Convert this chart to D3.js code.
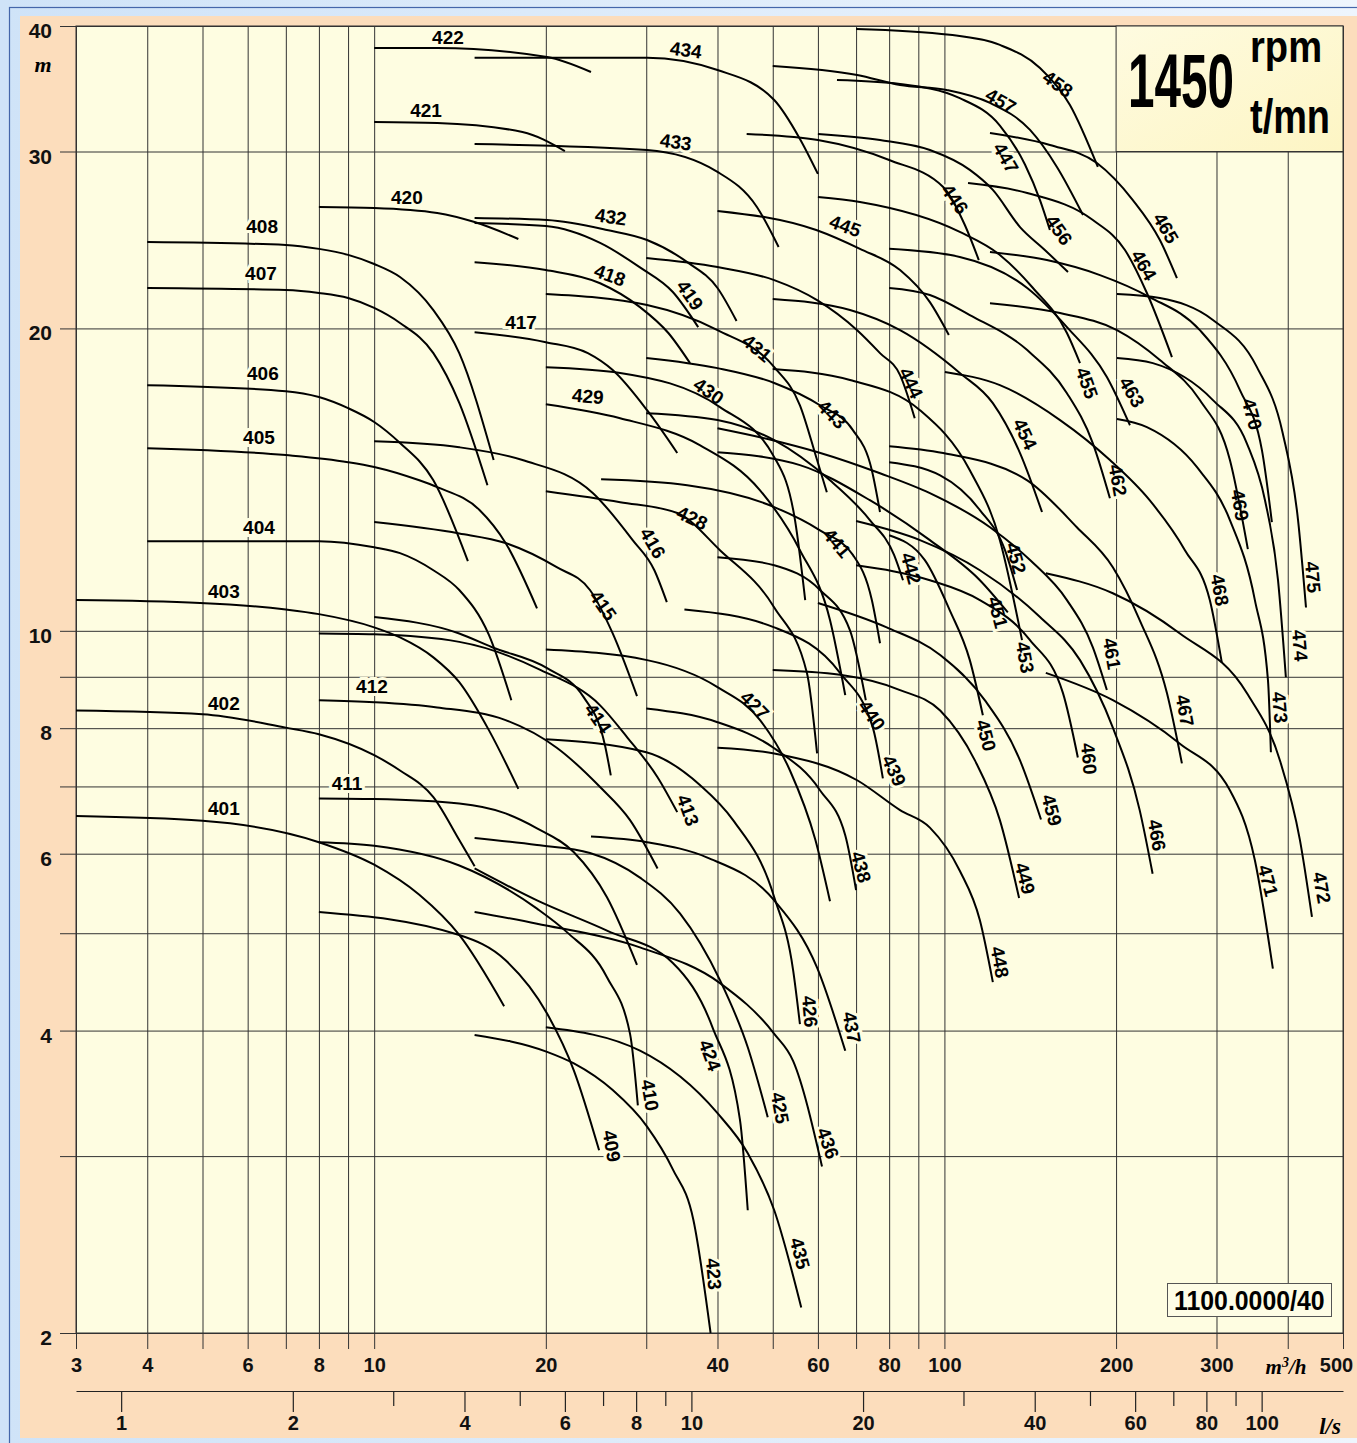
<!DOCTYPE html>
<html>
<head>
<meta charset="utf-8">
<script src="https://cdn.jsdelivr.net/npm/d3@7"></script>
<style>
body { margin: 0; background: #d6e8fb; }
svg { display: block; }
text { font-family: "Liberation Sans", Arial, sans-serif; }
</style>
</head>
<body>
<div id="chart"></div>
<script>
// axis ticks
var flowTicks = [3,4,5,6,7,8,9,10,20,30,40,50,60,70,80,90,100,200,300,400,500];
var flowLabels = [3,4,6,8,10,20,40,60,80,100,200,300,500];
var headTicks = [2,3,4,5,6,7,8,9,10,20,30,40];
var headLabels = [2,4,6,8,10,20,30,40];
var lsTicks = [1,2,3,4,5,6,7,8,9,10,20,30,40,50,60,70,80,90,100];
var lsLabels = [1,2,4,6,8,10,20,40,60,80,100];

// head curves, [flow m3/h, head m]
var family401 = [
 ["401", [[3,6.54],[5,6.47],[8,6.16],[10,5.85],[12,5.46],[14.1,4.98],[16.9,4.23]]],
 ["402", [[3,8.33],[5,8.26],[7,8.01],[8,7.89],[10,7.52],[11.1,7.26],[12.7,6.83],[14.1,6.19],[15,5.83]]],
 ["403", [[3,10.73],[4.95,10.66],[7,10.5],[8,10.39],[10,10.08],[11.1,9.85],[12.7,9.41],[14.1,8.89],[15.9,7.96],[17.9,6.96]]],
 ["404", [[4,12.28],[8,12.28],[10,12.11],[11.1,11.95],[12.7,11.49],[14.1,10.98],[15.9,9.9],[17.4,8.53]]],
 ["405", [[4,15.2],[7,14.96],[9,14.72],[10,14.56],[12,14.12],[12.9,13.9],[15.3,13.19],[17,12.23],[19.3,10.53]]],
 ["406", [[4,17.56],[7,17.32],[8,17.09],[9,16.66],[10,16.14],[11.1,15.38],[12.7,14.12],[14.6,11.73]]],
 ["407", [[4,21.94],[7,21.84],[8,21.69],[9,21.44],[10,20.96],[11.1,20.25],[12.7,18.9],[14.1,16.86],[15.8,13.96]]],
 ["408", [[4,24.38],[7,24.22],[8,24.0],[9,23.67],[10,23.18],[11.1,22.5],[12.7,20.86],[14.1,18.9],[16.2,14.79]]]
];
var family409 = [
 ["409", [[8,5.25],[14.1,4.98],[17,4.7],[20.1,4.16],[22.4,3.65],[24.8,3.04]]],
 ["410", [[8,6.16],[10,6.11],[14.1,5.84],[19.3,5.29],[21.8,5.01],[25.6,4.52],[28.1,3.97],[29,3.37]]],
 ["411", [[8,6.81],[10,6.8],[14.1,6.73],[17,6.58],[19.3,6.36],[22.4,6.02],[25.6,5.43],[28.9,4.65]]],
 ["412", [[8,8.53],[10,8.49],[12.9,8.39],[17,8.15],[20.9,7.65],[24.9,6.99],[28.1,6.48],[31.4,5.8]]],
 ["413", [[8,9.94],[10,9.92],[14.1,9.75],[19.6,9.14],[24.9,8.43],[27.8,7.83],[31.4,7.15],[34,6.6]]],
 ["414", [[10,10.32],[14.1,9.94],[16.1,9.63],[20.1,9.18],[23.3,8.59],[25.4,7.69],[26,7.18]]],
 ["415", [[10,12.83],[14.1,12.5],[17,12.23],[20.9,11.57],[23.9,10.98],[26.2,9.94],[28.9,8.61]]],
 ["416", [[10,15.44],[14.1,15.23],[18.2,14.79],[24.2,13.71],[28.4,12.31],[31,11.49],[32.6,10.68]]]
];
var family417 = [
 ["417", [[15,19.83],[20,19.38],[23.7,18.9],[26.2,18.18],[30.1,16.58],[34,15.03]]],
 ["418", [[15,23.28],[20,22.86],[24.9,22.18],[29.25,21.0],[32.8,19.79],[35.8,18.47]]],
 ["419", [[15,25.46],[20,25.29],[24.9,24.33],[29.25,23.0],[33.4,21.74],[37,20.06]]],
 ["420", [[8,26.42],[10,26.36],[12.9,26.06],[15,25.52],[17.9,24.55]]],
 ["421", [[10,32.1],[12.9,32.03],[18.2,31.37],[21.6,30.03]]],
 ["422", [[10,38.04],[12.9,38.04],[20.1,37.26],[24,36.0]]]
];
var family423 = [
 ["423", [[15,3.96],[20.1,3.81],[22.4,3.71],[26.2,3.49],[30.1,3.21],[33.4,2.91],[36.3,2.59],[38.9,2.0]]],
 ["424", [[15,5.8],[19.3,5.39],[25.6,5.03],[33.4,4.67],[39.2,4.03],[43.8,3.26],[45.2,2.65]]],
 ["425", [[15,6.22],[19.3,6.12],[23.9,6.01],[29.25,5.68],[34.4,5.23],[40.4,4.49],[45.2,3.85],[49,3.28]]],
 ["426", [[20,7.8],[30,7.57],[37.3,7.02],[42.6,6.48],[50.3,5.43],[54.3,4.59],[55.8,4.06]]],
 ["427", [[20,9.58],[30.1,9.35],[40,8.79],[47.5,8.15],[53.6,7.26],[59.4,6.19],[63,5.38]]],
 ["428", [[20,13.77],[27,13.43],[34,13.1],[40.4,12.03],[50.3,10.55],[57.4,9.08],[59.8,7.55]]],
 ["429", [[20,16.81],[27,16.28],[37.3,15.3],[47.5,13.8],[55.8,12.03],[63,10.25],[67,8.63]]],
 ["430", [[20,18.3],[27,18.06],[40.4,16.7],[50.3,14.89],[54.7,12.89],[57,10.73]]],
 ["431", [[20,21.64],[30.1,21.1],[40,19.92],[50.3,18.3],[55.8,16.77],[59.8,14.79],[62.2,13.74]]],
 ["432", [[15,25.76],[20.1,25.64],[25.6,25.06],[30.1,24.49],[35.4,23.28],[40,21.94],[43.2,20.34]]],
 ["433", [[15,30.52],[30.1,30.1],[40,28.63],[46.9,26.42],[51.2,24.1]]],
 ["434", [[15,37.2],[30.1,37.2],[40,36.16],[50.3,33.76],[55.8,30.88],[60,28.5]]]
];
var family435 = [
 ["435", [[20,4.03],[29.25,3.82],[40,3.31],[45.2,3.02],[50.3,2.65],[56.1,2.12]]],
 ["436", [[15,5.25],[19.3,5.11],[29.25,4.84],[40.4,4.46],[50.3,3.97],[54.3,3.73],[61,2.93]]],
 ["437", [[24,6.24],[30.1,6.16],[38.3,5.95],[50.3,5.39],[59.8,4.62],[67,3.82]]],
 ["438", [[30,8.37],[40,8.11],[50.3,7.64],[60.5,6.94],[67,6.26],[70,5.52]]],
 ["439", [[35,10.5],[50.3,10.08],[65.6,9.08],[74.9,8.01],[78,7.13]]],
 ["440", [[40,11.84],[50.3,11.62],[60.5,10.98],[68.3,10.01],[72.8,8.53]]],
 ["441", [[25,14.15],[35.4,13.96],[50.3,13.28],[60.5,12.59],[69.1,11.9],[74.6,10.73],[77.1,9.72]]],
 ["442", [[30,16.47],[40,16.21],[50.3,15.48],[63,14.12],[74,12.89],[81.6,11.9],[84.6,11.23]]],
 ["443", [[30,18.69],[40,18.26],[50.3,17.65],[60.5,16.77],[69.1,15.84],[74.6,14.45],[77.1,13.13]]],
 ["444", [[30,23.5],[40,23.02],[50.3,22.34],[59.8,21.34],[70.3,19.92],[77.1,18.9],[83.6,17.97],[88.7,16.28]]],
 ["445", [[40,26.18],[59.6,25.06],[71.1,24.0],[83.6,22.86],[94.3,21.24],[101.8,19.7]]],
 ["446", [[45,31.23],[60,30.8],[80,29.42],[99.5,27.66],[108.6,25.35],[114.9,23.39]]],
 ["447", [[64.8,35.34],[83.6,35.02],[106.4,33.9],[125.1,31.84],[138.5,29.1],[147.1,26.84],[153.1,25.06]]]
];
var family448 = [
 ["448", [[40,7.65],[50.3,7.55],[70.3,7.1],[83.6,6.63],[94.3,6.37],[106.4,5.77],[115.4,5.15],[121.6,4.47]]],
 ["449", [[50,9.14],[65.6,9.04],[83.6,8.73],[98.3,8.33],[113.1,7.43],[125.1,6.48],[135.2,5.42]]],
 ["450", [[80,12.45],[92.4,11.76],[102.2,10.48],[110.8,9.35],[116.8,8.24]]],
 ["451", [[40,15.06],[55.8,14.62],[74,13.49],[94.3,12.31],[115.4,11.23],[129.2,10.43]]],
 ["452", [[80,14.72],[98.3,14.28],[115.4,13.19],[127.7,12.03],[134.1,10.98]]],
 ["453", [[50,18.22],[68.3,17.77],[90.6,16.58],[110.8,14.45],[125.1,12.31],[136.8,9.79]]],
 ["454", [[50,21.39],[68.3,20.86],[83.6,19.92],[106.4,18.06],[121.6,16.85],[135.7,15.03],[148.3,13.13]]],
 ["455", [[60,27.03],[71.1,26.72],[106.4,24.95],[125.1,23.67],[143,21.94],[164,19.79],[172.9,18.47]]],
 ["456", [[60,31.23],[77.1,30.8],[94.3,30.1],[110.8,28.76],[121.6,27.47],[135.7,25.23],[150,23.94],[164.7,22.76]]],
 ["457", [[50,36.5],[70.3,35.75],[83.6,34.94],[100.9,34.54],[120.2,33.53],[141.3,31.52],[157.5,28.96],[175,25.94]]],
 ["458", [[70,39.73],[102.2,39.2],[125.1,38.3],[147.1,36.33],[166,33.38],[185.8,28.96]]]
];
var family459 = [
 ["459", [[60,10.66],[79.2,10.08],[98.3,9.46],[117.7,8.53],[135.7,7.43],[147.7,6.49]]],
 ["460", [[70,11.62],[94.3,11.23],[115.4,10.73],[141.3,9.79],[161.4,8.67],[171.4,7.48]]],
 ["461", [[40,15.91],[50,15.48],[60,15.06],[77.1,14.35],[94.3,13.71],[120.2,12.68],[141.3,11.76],[164,10.73],[182.1,9.63],[192.7,8.73]]],
 ["462", [[80,21.94],[94.3,21.59],[110.8,20.62],[139.7,19.03],[164,17.24],[182.1,15.37],[195.1,13.55]]],
 ["463", [[80,24.0],[106.4,23.56],[139.7,21.94],[164,20.06],[192.7,17.89],[211.5,16.02]]],
 ["464", [[110,27.91],[139.7,27.28],[182.1,25.64],[207.3,23.94],[226.5,21.69],[250.6,18.73]]],
 ["465", [[120.2,31.3],[153.1,30.45],[185.1,29.22],[214,26.84],[238.7,24.49],[255.7,22.44]]]
];
var family466 = [
 ["466", [[70,12.86],[90.6,12.31],[115.4,11.49],[147.1,10.32],[172.9,9.35],[197.4,8.01],[220,6.63],[231.8,5.73]]],
 ["467", [[80,15.27],[99.5,15.03],[139.7,14.12],[170.7,12.68],[197.4,11.57],[220,10.25],[245.6,8.67],[260.9,7.38]]],
 ["468", [[100.2,18.1],[125.1,17.56],[159.5,16.21],[195.1,14.79],[229,13.49],[264.1,12.03],[292,10.73],[306.6,9.29]]],
 ["469", [[120.2,21.19],[159.5,20.72],[200.7,19.92],[238.7,18.6],[280.5,16.97],[316.7,14.79],[340.5,12.06]]],
 ["470", [[120.2,23.83],[151.2,23.39],[187.4,22.6],[229,21.49],[280.5,19.92],[329.8,17.36],[360.4,15.13],[375.2,12.83]]]
];
var family471 = [
 ["471", [[150.6,9.08],[197.4,8.53],[258.8,7.72],[316.7,6.94],[350.3,5.91],[376.7,4.61]]],
 ["472", [[150.6,11.41],[197.4,10.9],[258.8,9.94],[339.1,8.67],[387.6,7.43],[420.2,6.19],[441.1,5.19]]],
 ["473", [[200.7,16.25],[226.5,15.95],[277.3,14.55],[316.7,12.89],[350.3,10.73],[369.3,8.93],[373.7,7.57]]],
 ["474", [[200.7,18.69],[232,18.47],[295.7,16.97],[339.1,15.37],[364.9,13.49],[384.6,11.23],[397,8.99]]],
 ["475", [[200.7,21.64],[238.7,21.44],[295.7,20.39],[353.2,18.3],[392,15.73],[417,12.89],[430.6,10.55]]]
];

// curve numbers: [id, flow, head, angle]
var curveLabels = [
 ["401",5.45,6.66,0],["402",5.45,8.47,0],["403",5.45,10.95,0],["404",6.28,12.68,0],
 ["405",6.28,15.59,0],["406",6.38,18.06,0],["407",6.33,22.71,0],["408",6.36,25.29,0],
 ["409",26.1,3.07,80],["410",30.45,3.45,80],["411",8.96,7.05,0],["412",9.91,8.81,0],
 ["413",35.5,6.63,70],["414",24.7,8.18,55],["415",25.2,10.6,55],["416",30.8,12.23,60],
 ["417",18.09,20.29,0],["418",25.9,22.6,20],["419",35.8,21.59,55],["420",11.41,27.03,0],
 ["421",12.33,33.0,0],["422",13.47,39.0,0],["423",39.4,2.29,85],["424",38.8,3.78,70],
 ["425",51.5,3.35,80],["426",58.1,4.18,85],["427",46.5,8.43,45],["428",36.1,12.95,25],
 ["429",23.7,17.12,5],["430",38.6,17.32,35],["431",46.9,19.12,40],["432",26.0,25.82,8],
 ["433",33.8,30.66,8],["434",35.2,37.86,8],["435",55.8,2.40,75],["436",62.5,3.09,70],
 ["437",68.8,4.03,80],["438",71.4,5.82,75],["439",81.6,7.26,65],["440",74.6,8.24,55],
 ["441",64.8,12.23,50],["442",87.4,11.54,75],["443",63.5,16.43,45],["444",87.4,17.65,65],
 ["445",67.0,25.29,20],["446",104.3,26.9,55],["447",128.2,29.56,60],["448",125.1,4.68,80],
 ["449",138.5,5.67,75],["450",118.3,7.87,75],["451",124.1,10.43,75],["452",133.5,11.81,75],
 ["453",138.5,9.41,80],["454",138.5,15.7,65],["455",177.8,17.65,70],["456",158.8,25.06,55],
 ["457",125.6,33.68,30],["458",158.1,35.02,35],["459",154.3,6.63,75],["460",179.3,7.46,85],
 ["461",196.7,9.49,80],["462",201.5,14.12,80],["463",213.2,17.28,60],["464",223.8,23.12,60],
 ["465",244.6,25.17,60],["466",235.9,6.26,80],["467",264.1,8.33,80],["468",304,10.98,80],
 ["469",329.8,13.34,80],["470",346.2,16.43,75],["471",369.3,5.64,75],["472",459,5.55,80],
 ["473",387.6,8.39,85],["474",420.2,9.67,85],["475",442.8,11.31,85]
];

var allCurves = [].concat(family401, family409, family417, family423, family435,
                          family448, family459, family466, family471);

var W = 1357, H = 1443;
var plot = {left: 76, right: 1343, top: 26, bottom: 1333};
var plotFill = '#fefde1';

var x = d3.scaleLog().domain([3, 500]).range([plot.left, plot.right]);
var y = d3.scaleLog().domain([2, 40]).range([plot.bottom, plot.top]);
var xl = d3.scaleLog().domain([3 / 3.6, 500 / 3.6]).range([plot.left, plot.right]);

var svg = d3.select('#chart').append('svg')
  .attr('width', W)
  .attr('height', H);

var defs = svg.append('defs');
var bgGrad = defs.append('linearGradient').attr('id', 'bg').attr('x1', 0).attr('x2', 1).attr('y1', 0).attr('y2', 0);
bgGrad.append('stop').attr('offset', '0%').attr('stop-color', '#cfe3f8');
bgGrad.append('stop').attr('offset', '100%').attr('stop-color', '#eef5fd');
var boxGrad = defs.append('linearGradient').attr('id', 'box').attr('x1', 0).attr('x2', 1).attr('y1', 0).attr('y2', 1);
boxGrad.append('stop').attr('offset', '0%').attr('stop-color', '#fefbe0');
boxGrad.append('stop').attr('offset', '100%').attr('stop-color', '#fdf5c4');

// frame
svg.append('rect').attr('width', W).attr('height', H).style('fill', 'url(#bg)');
svg.append('rect').attr('x', 9.5).attr('y', 7.5).attr('width', W).attr('height', H)
  .style('fill', 'none').style('stroke', '#4466aa').style('stroke-width', 1.2);
svg.append('rect').attr('x', 20).attr('y', 16).attr('width', W - 20).attr('height', 1422)
  .style('fill', '#fcddbc');
svg.append('rect').attr('x', plot.left).attr('y', plot.top)
  .attr('width', plot.right - plot.left).attr('height', plot.bottom - plot.top)
  .style('fill', plotFill);

// flow grid + labels (m3/h)
var xAxis = d3.axisBottom(x)
  .tickValues(flowTicks)
  .tickSize(-(1349 - plot.top))
  .tickSizeOuter(0)
  .tickPadding(9)
  .tickFormat(function (d) { return flowLabels.indexOf(d) >= 0 ? d : ''; });

var xg = svg.append('g').attr('transform', 'translate(0,1349)').call(xAxis);
xg.select('.domain').remove();
xg.selectAll('line').style('stroke', '#333').style('stroke-width', 1);
xg.selectAll('text').style('font-size', '20px').style('font-weight', 'bold').style('fill', '#111')
  .attr('dx', function (d) { return d === 500 ? -7 : 0; });

// head grid + labels
var yAxis = d3.axisLeft(y)
  .tickValues(headTicks)
  .tickSize(-(plot.right - 60))
  .tickSizeOuter(0)
  .tickPadding(8)
  .tickFormat(function (d) { return headLabels.indexOf(d) >= 0 ? d : ''; });

var yg = svg.append('g').attr('transform', 'translate(60,0)').call(yAxis);
yg.select('.domain').remove();
yg.selectAll('line').style('stroke', '#333').style('stroke-width', 1);
yg.selectAll('text').style('font-size', '21px').style('font-weight', 'bold').style('fill', '#111')
  .attr('dy', '0.55em');

svg.append('text').attr('x', 43).attr('y', 72).text('m')
  .style('font-family', '"Liberation Serif", "Times New Roman", serif')
  .style('font-style', 'italic').style('font-weight', 'bold').style('font-size', '22px')
  .style('text-anchor', 'middle');

// plot border
svg.append('rect').attr('x', plot.left).attr('y', plot.top)
  .attr('width', plot.right - plot.left).attr('height', plot.bottom - plot.top)
  .style('fill', 'none').style('stroke', '#333').style('stroke-width', 1);

svg.append('text').attr('x', 1286).attr('y', 1374)
  .style('font-family', '"Liberation Serif", "Times New Roman", serif')
  .style('font-style', 'italic').style('font-weight', 'bold').style('font-size', '21px')
  .style('text-anchor', 'middle')
  .html('m<tspan dy="-7" font-size="14px">3</tspan><tspan dy="7">/h</tspan>');

// second scale in l/s
var lsAxis = d3.axisBottom(xl)
  .tickValues(lsTicks)
  .tickSize(21)
  .tickSizeOuter(0)
  .tickPadding(4)
  .tickFormat(function (d) { return lsLabels.indexOf(d) >= 0 ? d : ''; });

var lg = svg.append('g').attr('transform', 'translate(0,1391)').call(lsAxis);
lg.select('.domain').style('stroke', '#222').style('stroke-width', 1.2);
lg.selectAll('.tick line').style('stroke', '#222').style('stroke-width', 1.2)
  .attr('y2', function (d) { return lsLabels.indexOf(d) >= 0 ? 21 : 15; });
lg.selectAll('text').style('font-size', '20px').style('font-weight', 'bold').style('fill', '#111');

svg.append('text').attr('x', 1330).attr('y', 1434).text('l/s')
  .style('font-family', '"Liberation Serif", "Times New Roman", serif')
  .style('font-style', 'italic').style('font-weight', 'bold').style('font-size', '23px')
  .style('text-anchor', 'middle');

// speed box
svg.append('rect')
  .attr('x', x(200)).attr('y', y(40))
  .attr('width', x(500) - x(200)).attr('height', y(30) - y(40))
  .style('fill', 'url(#box)').style('stroke', '#333').style('stroke-width', 1);

// condensed lettering: squeezed horizontally with a transform
svg.append('text').attr('transform', 'translate(1128,107) scale(0.627,1)').text('1450')
  .style('font-size', '76px').style('font-weight', 'bold');
svg.append('text').attr('transform', 'translate(1250,62) scale(0.867,1)').text('rpm')
  .style('font-size', '44px').style('font-weight', 'bold');
svg.append('text').attr('transform', 'translate(1250,133) scale(0.79,1)').text('t/mn')
  .style('font-size', '48px').style('font-weight', 'bold');

// reference box
svg.append('rect').attr('x', 1167.5).attr('y', 1283.5).attr('width', 164).attr('height', 33)
  .style('fill', '#fefde6').style('stroke', '#555').style('stroke-width', 1);
svg.append('text').attr('transform', 'translate(1174,1310) scale(0.92,1)').text('1100.0000/40')
  .style('font-size', '27px').style('font-weight', 'bold');

// curve numbers: halo under the curves so grid lines are knocked out
function labelTransform(d) {
  return 'translate(' + x(d[1]) + ',' + y(d[2]) + ') rotate(' + d[3] + ')';
}

svg.append('g').selectAll('text')
  .data(curveLabels)
  .enter().append('text')
  .attr('transform', labelTransform)
  .attr('dy', '0.35em')
  .style('text-anchor', 'middle')
  .style('font-size', '19px').style('font-weight', 'bold')
  .style('fill', plotFill).style('stroke', plotFill).style('stroke-width', 6)
  .text(function (d) { return d[0]; });

var line = d3.line()
  .x(function (d) { return x(d[0]); })
  .y(function (d) { return y(d[1]); })
  .curve(d3.curveMonotoneX);

svg.append('g').selectAll('path')
  .data(allCurves)
  .enter().append('path')
  .attr('d', function (d) { return line(d[1]); })
  .style('fill', 'none')
  .style('stroke', '#000')
  .style('stroke-width', 2)
  .style('stroke-linecap', 'butt');

svg.append('g').selectAll('text')
  .data(curveLabels)
  .enter().append('text')
  .attr('transform', labelTransform)
  .attr('dy', '0.35em')
  .style('text-anchor', 'middle')
  .style('font-size', '19px').style('font-weight', 'bold')
  .style('fill', '#000')
  .text(function (d) { return d[0]; });
</script>
</body>
</html>
